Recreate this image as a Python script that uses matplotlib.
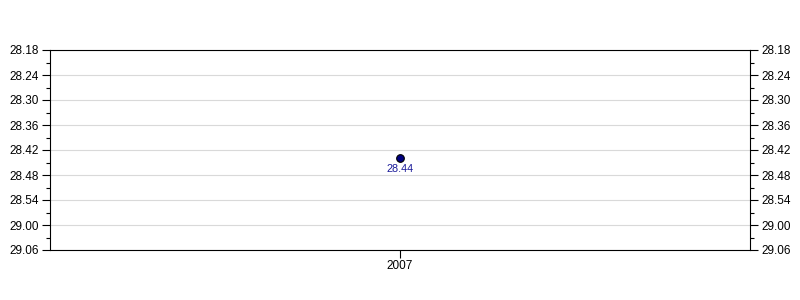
import numpy as np
import matplotlib.pyplot as plt
from matplotlib.ticker import FixedLocator, FuncFormatter

# Data: race times as "minutes.seconds"
years = ['2007']
times = ['28.44']

y_top = '28.18'
y_bottom = '29.06'


def to_seconds(t):
    m, s = t.split('.')
    return int(m) * 60 + int(s)


def fmt_time(v, pos=None):
    v = int(round(v))
    return f"{v // 60}.{v % 60:02d}"


def main():
    plt.rcParams['font.family'] = ['Liberation Sans', 'DejaVu Sans']
    secs = [to_seconds(t) for t in times]
    lo, hi = to_seconds(y_top), to_seconds(y_bottom)

    fig = plt.figure(figsize=(8, 3), dpi=100)
    ax = fig.add_axes([50 / 800, 50 / 300, 700 / 800, 200 / 300])

    x = np.arange(len(years))
    ax.plot(x, secs, 'o', color='#000080', markeredgecolor='black',
            markeredgewidth=0.8, markersize=5.5, zorder=3)
    for xi, s, t in zip(x, secs, times):
        ax.annotate(t, (xi, s), xytext=(0, -4), textcoords='offset points',
                    ha='center', va='top', fontsize=7.8, color='#1a1a99')

    ax.set_xlim(-1, 1)
    ax.set_ylim(hi, lo)
    ax.set_xticks(x)
    ax.set_xticklabels(years)

    major = np.arange(lo, hi + 1, 6)
    minor = np.arange(lo + 3, hi, 6)
    ax.yaxis.set_major_locator(FixedLocator(major))
    ax.yaxis.set_minor_locator(FixedLocator(minor))
    ax.yaxis.set_major_formatter(FuncFormatter(fmt_time))
    ax.yaxis.grid(True, which='major', color='#d9d9d9', linewidth=0.8)
    ax.set_axisbelow(True)

    ax.tick_params(axis='y', which='major', length=6, width=0.8, labelsize=8.5,
                   left=True, right=True, labelleft=True, labelright=True, pad=2)
    ax.tick_params(axis='y', which='minor', length=3, width=0.8,
                   left=True, right=True)
    ax.tick_params(axis='x', length=6, width=0.8, labelsize=8.5, pad=1.5)
    for sp in ax.spines.values():
        sp.set_linewidth(0.8)

    fig.savefig('out.png', dpi=100)


if __name__ == "__main__":
    main()
